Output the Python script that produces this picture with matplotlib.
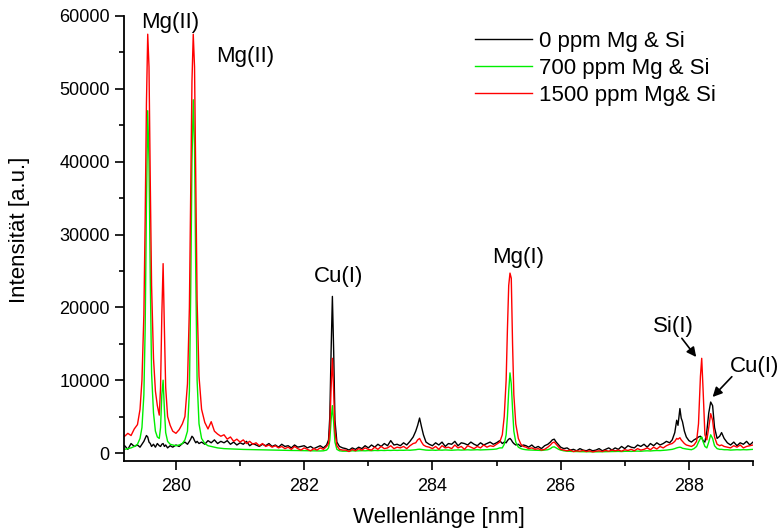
import matplotlib
matplotlib.use("Agg")
import matplotlib.pyplot as plt
from matplotlib.ticker import MultipleLocator

plt.rcParams['font.family'] = ['Liberation Sans', 'DejaVu Sans']

# wavelength grid [nm]
wl = [
    # Mg(II) doublet
    279.20, 279.25, 279.30, 279.35, 279.40, 279.44, 279.47, 279.50, 279.52, 279.54,
    279.56, 279.58, 279.60, 279.62, 279.65, 279.68, 279.71, 279.74, 279.76, 279.78,
    279.80, 279.82, 279.84, 279.87, 279.91, 279.95, 280.00, 280.05, 280.10, 280.14,
    280.18, 280.21, 280.23, 280.25, 280.27, 280.29, 280.31, 280.33, 280.36, 280.40,
    280.45, 280.50, 280.55, 280.60, 280.65, 280.70,
    # baseline
    280.75, 280.80, 280.85, 280.90, 280.95, 281.00, 281.05, 281.10, 281.15, 281.20,
    281.25, 281.30, 281.35, 281.40, 281.45, 281.50, 281.55, 281.60, 281.65, 281.70,
    281.75, 281.80, 281.85, 281.90, 281.95, 282.00, 282.05, 282.10, 282.15, 282.20,
    282.25, 282.30, 282.35,
    # Cu(I)
    282.38, 282.40, 282.42, 282.44, 282.46, 282.48, 282.51, 282.55, 282.60,
    # baseline
    282.65, 282.70, 282.75, 282.80, 282.85, 282.90, 282.95, 283.00, 283.05, 283.10,
    283.15, 283.20, 283.25, 283.30, 283.35, 283.40, 283.45, 283.50, 283.55, 283.60,
    283.65, 283.70,
    # small line 283.8
    283.74, 283.77, 283.80, 283.83, 283.86, 283.90,
    # baseline
    283.95, 284.00, 284.05, 284.10, 284.15, 284.20, 284.25, 284.30, 284.35, 284.40,
    284.45, 284.50, 284.55, 284.60, 284.65, 284.70, 284.75, 284.80, 284.85, 284.90,
    284.95, 285.00, 285.05,
    # Mg(I)
    285.09, 285.12, 285.15, 285.17, 285.19, 285.21, 285.23, 285.25, 285.27, 285.30,
    285.34, 285.38, 285.42,
    # baseline + 285.9
    285.46, 285.50, 285.55, 285.60, 285.65, 285.70, 285.75, 285.80, 285.84, 285.87,
    285.90, 285.93, 285.97, 286.00, 286.05, 286.10, 286.15, 286.20, 286.25, 286.30,
    286.35, 286.40, 286.45, 286.50, 286.55, 286.60, 286.65, 286.70, 286.75, 286.80,
    # baseline
    286.85, 286.90, 286.95, 287.00, 287.05, 287.10, 287.15, 287.20, 287.25, 287.30,
    287.35, 287.40, 287.45, 287.50, 287.55, 287.60, 287.65, 287.70,
    # 287.85 / Si(I) / Cu(I)
    287.74, 287.78, 287.81, 287.83, 287.86, 287.88, 287.90, 287.93, 287.96, 288.00,
    288.04, 288.08, 288.12, 288.15, 288.18, 288.20, 288.22, 288.25, 288.28, 288.31,
    288.34, 288.37, 288.40, 288.44, 288.48, 288.51, 288.55, 288.60,
    # end
    288.65, 288.70, 288.75, 288.80, 288.85, 288.90, 288.95, 289.00,
]

int_0ppm = [
    1000, 500, 1300, 900, 1100, 800, 1200, 1600, 2000, 2400,
    2200, 1500, 1300, 900, 1200, 800, 1300, 1000, 900, 1200,
    1300, 900, 1100, 700, 1000, 800, 1100, 900, 1300, 1500,
    1200, 1600, 1900, 2300, 2100, 1700, 1400, 1600, 1300, 1500,
    1200, 1700, 1400, 1800, 1300, 1600,
    1400, 1700, 1200, 1500, 1100, 1400, 1200, 1600, 1000, 1300,
    1100, 900, 1200, 1000, 1300, 900, 1100, 800, 1200, 900,
    1000, 700, 1100, 800, 900, 1000, 700, 900, 600, 800,
    1000, 700, 1100,
    1800, 5000, 14000, 21500, 14000, 4500, 1500, 900, 700,
    600, 400, 700, 500, 800, 600, 1000, 700, 1100, 800,
    1200, 900, 1300, 1000, 1700, 1100, 1200, 1000, 1400, 1100,
    1600, 2200,
    3000, 3800, 4800, 3600, 2500, 1500,
    1200, 1000, 1400, 1100, 1500, 900, 1300, 1200, 1600, 1000,
    1400, 1300, 1100, 1500, 1200, 1000, 1400, 1100, 1300, 1500,
    1200, 1400, 1700,
    1300, 1500, 1400, 1700, 1900, 2000, 1800, 1500, 1300, 1100,
    1200, 900, 1100,
    1000, 800, 1100, 700, 900, 600, 1000, 1200, 1500, 1800,
    1900, 1500, 1100, 800, 600, 700, 400, 500, 300, 600,
    400, 300, 500, 300, 400, 600, 300, 500, 700, 400,
    700, 500, 900, 600, 1000, 800, 700, 1100, 900, 1200,
    800, 1300, 1000, 1400, 1100, 1300, 1600, 1400,
    1800, 2800, 4500, 3800, 6100, 4800, 4300, 3000, 2200, 1700,
    1500, 1800, 2000, 2200, 2300, 2100, 1700, 1500, 3000, 5500,
    7000, 6500, 3500, 2000, 2300, 2800, 2000, 1400,
    1100, 1500, 1000, 1400, 1200, 1600, 1100, 1500,
]

int_700ppm = [
    500, 600, 700, 900, 1200, 2000, 3500, 8000, 17000, 34000,
    47000, 40000, 24000, 11000, 5500, 3000, 2200, 2000, 3500, 8000,
    10000, 6000, 2800, 1600, 1200, 1100, 1000, 1100, 1300, 1800,
    3000, 8500, 22000, 40000, 48500, 42000, 24000, 10000, 4000, 2000,
    1300, 1000, 900, 800, 700, 650,
    600, 580, 560, 540, 520, 500, 490, 480, 470, 460,
    450, 440, 430, 420, 410, 400, 400, 390, 380, 370,
    360, 350, 350, 340, 330, 320, 310, 300, 300, 290,
    280, 300, 400,
    700, 1800, 4500, 6500, 4200, 1500, 500, 300, 250,
    250, 250, 300, 280, 300, 320, 300, 330, 310, 350,
    330, 360, 340, 370, 350, 380, 360, 380, 370, 400,
    380, 420,
    450, 500, 520, 480, 430, 400,
    380, 400, 370, 410, 390, 420, 400, 380, 410, 430,
    400, 420, 440, 410, 430, 450, 420, 440, 460, 480,
    500, 550, 700,
    700, 1200, 2500, 5000, 8500, 11000, 9500, 6000, 3000, 1500,
    800, 600, 500,
    450, 420, 400, 380, 360, 350, 400, 450, 600, 800,
    850, 700, 500, 400, 300, 250, 220, 200, 200, 180,
    180, 170, 170, 160, 160, 160, 170, 180, 190, 200,
    200, 220, 200, 230, 240, 220, 250, 260, 240, 280,
    300, 280, 320, 340, 330, 360, 400, 450,
    500, 600, 700, 750, 800, 750, 650, 600, 550, 500,
    450, 600, 900, 1500, 2000, 2200, 1600, 900, 700, 1500,
    2500, 2000, 1000, 600, 500, 500, 450, 450,
    400, 420, 450, 430, 460, 440, 470, 500,
]

int_1500ppm = [
    2300, 2700, 2400, 3300, 3900, 6000, 10000, 19000, 32000, 48000,
    57500, 53000, 37000, 23000, 13000, 8500, 6500, 5200, 9000, 19000,
    26000, 17000, 9000, 5000, 3800, 3000, 2700, 3200, 4000, 5000,
    9500, 20000, 36000, 51000, 57500, 53000, 37000, 21000, 10500, 6000,
    4200, 3300, 4300, 3000, 2600, 2300,
    2500, 1900, 2200, 1600, 1900, 1500, 1800, 1300, 1600, 1200,
    1400, 1000, 1300, 900, 1100, 800, 1000, 700, 900, 600,
    800, 500, 900, 600, 400, 700, 500, 300, 600, 400,
    700, 500, 900,
    1300, 3500, 9000, 13000, 8500, 3000, 1000, 500, 400,
    400, 200, 500, 300, 600, 400, 700, 500, 400, 800,
    500, 900, 600, 700, 1000, 600, 800, 700, 900, 600,
    1000, 1300,
    1400, 1800, 2000, 1500, 1100, 900,
    800, 600, 900, 500, 1000, 700, 800, 600, 1100, 700,
    900, 500, 1000, 800, 600, 900, 700, 1100, 800, 1000,
    900, 1200, 1500,
    2500, 5000, 10000, 17000, 23000, 24700, 24000, 15000, 8000, 4000,
    2000, 1200, 900,
    800, 600, 700, 500, 600, 400, 500, 800, 1100, 1400,
    1500, 1200, 800, 500, 400, 300, 400, 200, 300, 250,
    350, 200, 300, 150, 250, 300, 200, 350, 250, 400,
    300, 400, 250, 450, 350, 500, 300, 600, 400, 500,
    700, 450, 800, 550, 900, 700, 1000, 1200,
    1300, 1600, 2000, 1900, 2100, 1800, 1600, 1300, 1100, 1000,
    900, 1100, 1600, 4000, 10500, 13000, 9000, 2500, 1800, 3500,
    5400, 4500, 2200, 1200, 1000, 1100, 900, 800,
    700, 1000, 800, 1100, 700, 900, 1000, 1100,
]

series_labels = ['0 ppm Mg & Si', '700 ppm Mg & Si', '1500 ppm Mg& Si']

fig = plt.figure(figsize=(7.81, 5.29), dpi=100)
ax = fig.add_axes([124 / 781, 1 - 460.7 / 529, 629 / 781, 444.7 / 529])

ax.plot(wl, int_0ppm, color='black', lw=1.0, label=series_labels[0])
ax.plot(wl, int_700ppm, color='#00ee00', lw=1.0, label=series_labels[1])
ax.plot(wl, int_1500ppm, color='#ff0000', lw=1.0, label=series_labels[2])

ax.set_xlim(279.19, 289.0)
ax.set_ylim(-1057, 60000)

ax.spines['top'].set_visible(False)
ax.spines['right'].set_visible(False)
for s in ['left', 'bottom']:
    ax.spines[s].set_linewidth(1.3)

ax.xaxis.set_major_locator(MultipleLocator(2))
ax.xaxis.set_minor_locator(MultipleLocator(1))
ax.yaxis.set_major_locator(MultipleLocator(10000))
ax.yaxis.set_minor_locator(MultipleLocator(5000))
ax.tick_params(which='major', direction='out', length=6.2, width=1.2, labelsize=13, pad=4)
ax.tick_params(axis='x', which='major', pad=6)
ax.tick_params(which='minor', direction='out', length=3.3, width=1.2)

ax.set_xlabel('Wellenlänge [nm]', fontsize=16)
ax.set_ylabel('Intensität [a.u.]', fontsize=16)
ax.xaxis.set_label_coords(0.5, -0.105)
ax.yaxis.set_label_coords(-0.149, 0.52)

# peak labels
ax.text(279.908, 58315, 'Mg(II)', fontsize=16, ha='center', va='baseline')
ax.text(281.082, 53728, 'Mg(II)', fontsize=16, ha='center', va='baseline')
ax.text(282.544, 23479, 'Cu(I)', fontsize=16, ha='center', va='baseline')
ax.text(285.333, 26088, 'Mg(I)', fontsize=16, ha='center', va='baseline')
ax.text(287.759, 16655, 'Si(I)', fontsize=16, ha='center', va='baseline')
ax.text(289.029, 11163, 'Cu(I)', fontsize=16, ha='center', va='baseline', clip_on=False)

arrow = dict(arrowstyle='-|>', color='black', lw=1.2, mutation_scale=14, shrinkA=0, shrinkB=0)
ax.annotate('', xy=(288.114, 13180), xytext=(287.89, 15750), arrowprops=arrow)
ax.annotate('', xy=(288.37, 7690), xytext=(288.67, 10476), arrowprops=arrow)

ax.legend(loc='upper left', bbox_to_anchor=(474.7 / 781, 1 - 31 / 529),
          bbox_transform=fig.transFigure, frameon=False, fontsize=16,
          handlelength=2.6, handletextpad=0.3, labelspacing=0.26,
          borderpad=0, borderaxespad=0)

fig.savefig('out.png', dpi=100)
